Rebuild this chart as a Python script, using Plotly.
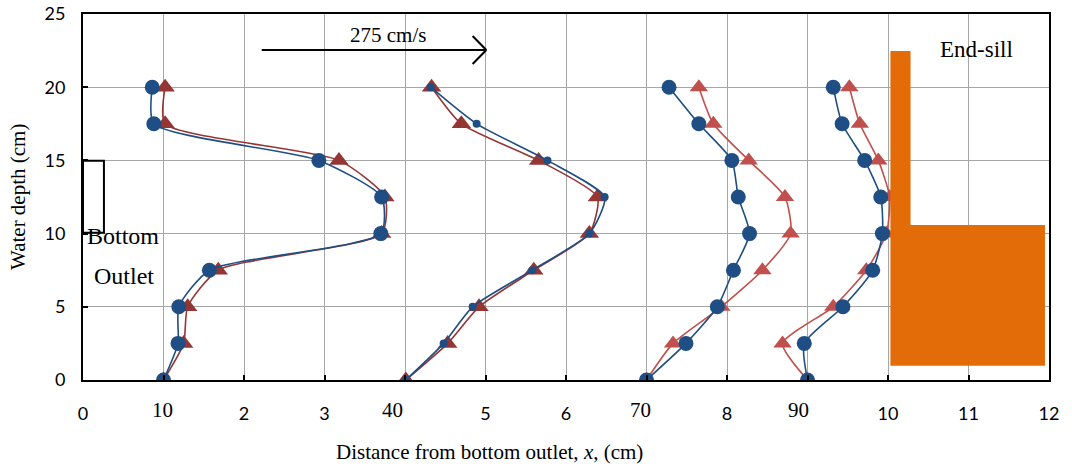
import plotly.graph_objects as go

# ---- data ----
depth = [0, 2.5, 5, 7.5, 10, 12.5, 15, 17.5, 20]

# plotted horizontal positions (station origin + scaled velocity) for each profile
st10_blue = [1.00, 1.18, 1.19, 1.57, 3.70, 3.71, 2.93, 0.88, 0.86]
st10_red = [1.00, 1.25, 1.30, 1.68, 3.71, 3.75, 3.18, 1.02, 1.02]
st40_blue = [4.01, 4.48, 4.84, 5.58, 6.29, 6.48, 5.77, 4.89, 4.32]
st40_red = [4.01, 4.53, 4.92, 5.60, 6.29, 6.39, 5.66, 4.70, 4.33]
st70_blue = [7.00, 7.49, 7.88, 8.08, 8.28, 8.14, 8.06, 7.65, 7.28]
st70_red = [7.00, 7.33, 7.93, 8.44, 8.79, 8.72, 8.27, 7.83, 7.65]
st90_blue = [9.00, 8.96, 9.44, 9.81, 9.93, 9.91, 9.71, 9.43, 9.32]
st90_red = [9.00, 8.69, 9.32, 9.73, 9.98, 10.02, 9.88, 9.65, 9.52]

station_labels = ["10", "40", "70", "90"]
station_label_x = [0.99, 3.85, 6.92, 8.89]

x_tickvals = list(range(0, 13))
x_ticktext = ["0", "", "2", "3", "", "5", "6", "", "8", "", "10", "11", "12"]
y_tickvals = [0, 5, 10, 15, 20, 25]

BLUE = "#1F4E84"
RED_DARK = "#943634"
RED = "#C0504D"
ORANGE = "#E36C09"
SERIF = "Liberation Serif"
SANS = "Lato"

fig = go.Figure()

profiles = [
    (st10_red, RED_DARK, 17, st10_blue, 15),
    (st40_red, RED_DARK, 17, st40_blue, 8),
    (st70_red, RED, 16, st70_blue, 15),
    (st90_red, RED, 16, st90_blue, 15),
]

for red, rc, rsize, blue, bsize in profiles:
    fig.add_trace(go.Scatter(
        x=red, y=depth, mode="lines+markers",
        line=dict(color=rc, width=1.6, shape="spline", smoothing=0.6),
        marker=dict(symbol="triangle-up", size=rsize, color=rc),
        showlegend=False, hoverinfo="skip"))
for red, rc, rsize, blue, bsize in profiles:
    fig.add_trace(go.Scatter(
        x=blue, y=depth, mode="lines+markers",
        line=dict(color=BLUE, width=1.6, shape="spline", smoothing=0.6),
        marker=dict(symbol="circle", size=bsize, color=BLUE),
        showlegend=False, hoverinfo="skip"))

shapes = [
    # end-sill (L shape)
    dict(type="path", xref="x", yref="y",
         path="M 10.03 0.98 L 10.03 22.47 L 10.28 22.47 L 10.28 10.59 L 11.95 10.59 L 11.95 0.98 Z",
         fillcolor=ORANGE, line=dict(width=0), layer="above"),
    # bottom outlet
    dict(type="rect", xref="x", yref="y", x0=0, x1=0.26, y0=10.05, y1=14.98,
         line=dict(color="black", width=2), fillcolor="rgba(0,0,0,0)", layer="above"),
    # velocity scale arrow
    dict(type="line", xref="x", yref="y", x0=2.22, x1=5.01, y0=22.54, y1=22.54,
         line=dict(color="black", width=2), layer="above"),
    dict(type="line", xref="x", yref="y", x0=4.84, x1=5.01, y0=23.5, y1=22.54,
         line=dict(color="black", width=2), layer="above"),
    dict(type="line", xref="x", yref="y", x0=4.84, x1=5.01, y0=21.58, y1=22.54,
         line=dict(color="black", width=2), layer="above"),
]

annotations = [
    dict(text="Bottom", x=0.03, y=9.84, xref="x", yref="y", xanchor="left", yanchor="middle",
         showarrow=False, font=dict(family=SERIF, size=24, color="black")),
    dict(text="Outlet", x=0.11, y=7.1, xref="x", yref="y", xanchor="left", yanchor="middle",
         showarrow=False, font=dict(family=SERIF, size=24, color="black")),
    dict(text="End-sill", x=10.62, y=22.6, xref="x", yref="y", xanchor="left", yanchor="middle",
         showarrow=False, font=dict(family=SERIF, size=23, color="black")),
    dict(text="275 cm/s", x=3.79, y=23.57, xref="x", yref="y", xanchor="center", yanchor="middle",
         showarrow=False, font=dict(family=SERIF, size=21, color="black")),
    dict(text="Distance from bottom outlet, <i>x</i>, (cm)", x=5.05, y=-0.197, xref="x", yref="paper",
         xanchor="center", yanchor="middle", showarrow=False,
         font=dict(family=SERIF, size=21, color="black")),
    dict(text="Water depth (cm)", x=-0.0673, y=0.5, xref="paper", yref="paper", textangle=-90,
         xanchor="center", yanchor="middle", showarrow=False,
         font=dict(family=SERIF, size=21, color="black")),
]
for lab, lx in zip(station_labels, station_label_x):
    annotations.append(dict(text=lab, x=lx, y=-0.082, xref="x", yref="paper",
                            xanchor="center", yanchor="middle", showarrow=False,
                            font=dict(family=SERIF, size=21, color="black")))

fig.update_layout(
    width=1072, height=466,
    margin=dict(l=83, r=23, t=14, b=86),
    paper_bgcolor="white", plot_bgcolor="white",
    shapes=shapes, annotations=annotations,
    showlegend=False,
    xaxis=dict(range=[0, 12], tickvals=x_tickvals, ticktext=x_ticktext,
               automargin=False,
               showgrid=True, gridcolor="#A6A6A6", gridwidth=1,
               showline=True, mirror=True, linecolor="black", linewidth=2,
               ticks="inside", ticklen=5, tickcolor="black", tickwidth=1.5,
               ticklabelstandoff=16, zeroline=False,
               tickfont=dict(family=SANS, size=18, color="black")),
    yaxis=dict(range=[0, 25], tickvals=y_tickvals,
               automargin=False,
               showgrid=True, gridcolor="#A6A6A6", gridwidth=1,
               showline=True, mirror=True, linecolor="black", linewidth=2,
               ticks="inside", ticklen=5, tickcolor="black", tickwidth=1.5,
               ticklabelstandoff=12, zeroline=False,
               tickfont=dict(family=SANS, size=18, color="black")),
)

# remove the default 8px page margin so the figure fills the window exactly
fig.write_html("out.html", config={"displayModeBar": False},
               post_script="document.body.style.margin='0';")
